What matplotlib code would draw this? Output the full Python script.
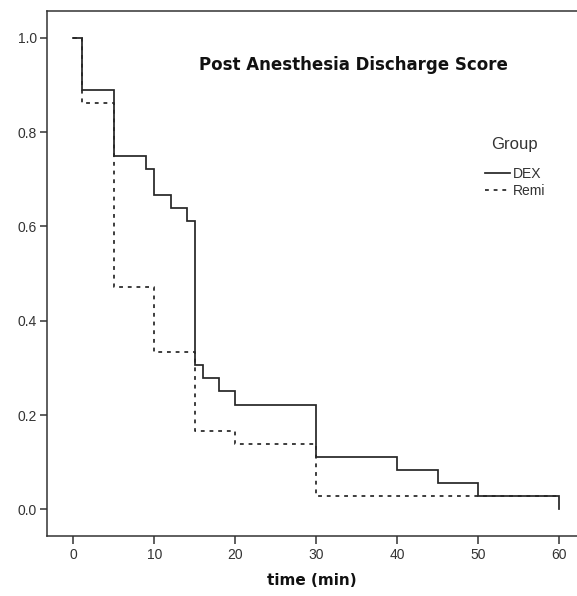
import matplotlib
matplotlib.use("Agg")
import matplotlib.pyplot as plt
from matplotlib.lines import Line2D

# Data (survival proportions, n = 36 per group)
dex_times = [0, 1, 5, 9, 10, 12, 14, 15, 16, 18, 20, 30, 40, 45, 50, 60]
dex_surv = [1.0, 0.889, 0.750, 0.722, 0.667, 0.639, 0.611, 0.306, 0.278,
            0.250, 0.222, 0.111, 0.083, 0.056, 0.028, 0.0]
remi_times = [0, 1, 5, 10, 15, 20, 30, 60]
remi_surv = [1.0, 0.861, 0.472, 0.333, 0.167, 0.139, 0.028, 0.028]
x_ticks = [0, 10, 20, 30, 40, 50, 60]
y_ticks = [0.0, 0.2, 0.4, 0.6, 0.8, 1.0]
group_labels = ["DEX", "Remi"]

W, H = 577, 596
fig = plt.figure(figsize=(W / 100, H / 100), dpi=100)
ax = fig.add_axes([46.7 / W, 1 - 535.7 / H, 1 - 46.7 / W, (535.7 - 11) / H])

line_col = "#262626"
dash = (0, (2.2, 2.8))
ax.step(dex_times, dex_surv, where="post", color=line_col, lw=1.25,
        solid_joinstyle="miter")
ax.step(remi_times, remi_surv, where="post", color=line_col, lw=1.25,
        linestyle=dash)

ax.set_xlim(-3.3, 62.2)
ax.set_ylim(-0.056, 1.057)
ax.set_xticks(x_ticks)
ax.set_yticks(y_ticks)
ax.set_yticklabels([f"{v:.1f}" for v in y_ticks])

for s in ["left", "bottom", "top"]:
    ax.spines[s].set_color("#333333")
    ax.spines[s].set_linewidth(1.1)
ax.spines["right"].set_visible(False)

ax.tick_params(axis="both", direction="out", color="#333333", width=1.1,
               labelcolor="#333333", labelsize=10)
ax.tick_params(axis="y", length=5, pad=2)
ax.tick_params(axis="x", length=5.5, pad=3.5)
for lab in ax.get_xticklabels() + ax.get_yticklabels():
    lab.set_fontfamily("Liberation Sans")

ax.set_xlabel("time (min)", fontsize=11, fontweight="bold",
              fontfamily="DejaVu Sans", color="#111111", labelpad=8)

ax.text(0.578, 0.8875, "Post Anesthesia Discharge Score", transform=ax.transAxes,
        ha="center", va="baseline", fontsize=12, fontweight="bold",
        fontfamily="DejaVu Sans", color="#111111")

fig.text(514.5 / W, 1 - 145 / H, "Group", ha="center", va="center",
         fontsize=12, fontfamily="Liberation Sans", color="#333333")

handles = [Line2D([], [], color=line_col, lw=1.25),
           Line2D([], [], color=line_col, lw=1.25, linestyle=dash)]
leg = ax.legend(handles, group_labels, frameon=False,
                loc="upper left", bbox_to_anchor=(485 / W, 1 - 167 / H),
                bbox_transform=fig.transFigure,
                prop={"family": "Liberation Sans", "size": 10},
                handlelength=1.8, handletextpad=0.2, labelspacing=0.22,
                borderaxespad=0, borderpad=0)
for t in leg.get_texts():
    t.set_color("#333333")

fig.savefig("out.png", dpi=100)
